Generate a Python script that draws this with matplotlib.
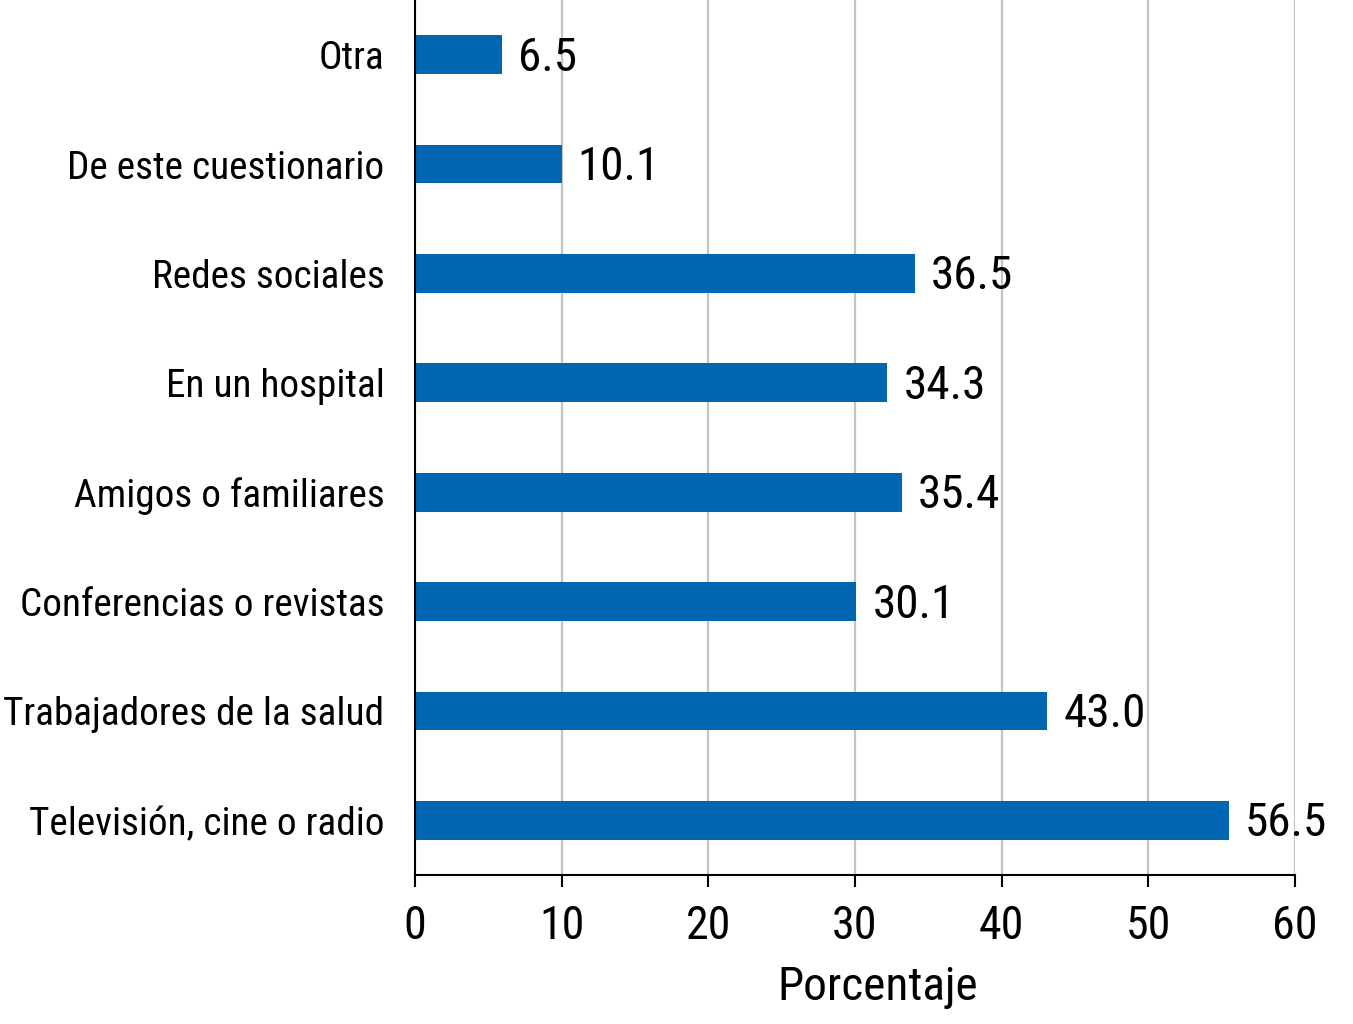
import matplotlib
matplotlib.use("Agg")
import matplotlib.pyplot as plt

plt.rcParams['font.family'] = ['Roboto Condensed', 'Archivo Narrow', 'DejaVu Sans']

categories = ["Televisión, cine o radio", "Trabajadores de la salud", "Conferencias o revistas",
              "Amigos o familiares", "En un hospital", "Redes sociales",
              "De este cuestionario", "Otra"]
bar_values = [55.5, 43.1, 30.1, 33.2, 32.2, 34.1, 10.0, 5.95]
value_labels = ["56.5", "43.0", "30.1", "35.4", "34.3", "36.5", "10.1", "6.5"]
xticks = [0, 10, 20, 30, 40, 50, 60]

W, H = 1353, 1024
fig = plt.figure(figsize=(W / 100, H / 100), dpi=100)
ax = fig.add_axes([415 / W, 1 - 875 / H, (1295 - 415) / W, 875 / H])

y = list(range(len(categories)))
ax.barh(y, bar_values, height=0.355, color='#0066B2', zorder=3)
for yi, v, lab in zip(y, bar_values, value_labels):
    ax.annotate(lab, (v, yi), xytext=(16, -3), textcoords='offset pixels',
                va='center', ha='left', fontsize=34, color='black', zorder=4)

ax.set_xlim(0, 60)
ax.set_ylim(-0.5, len(categories) - 0.5)
ax.set_xticks(xticks)
ax.set_xticklabels([str(t) for t in xticks])
ax.set_yticks(y)
ax.set_yticklabels(categories)
ax.tick_params(axis='y', length=0, pad=22, labelsize=28.3)
ax.tick_params(axis='x', length=8.6, width=1.5, pad=12, labelsize=33, direction='out')
ax.xaxis.grid(True, color='#c4c4c4', linewidth=1.6, zorder=0)
for s in ['top', 'right']:
    ax.spines[s].set_visible(False)
for s in ['left', 'bottom']:
    ax.spines[s].set_linewidth(1.5)
    ax.spines[s].set_zorder(5)
ax.set_xlabel('Porcentaje', fontsize=34)
ax.xaxis.set_label_coords(0.526, -0.103)
ax.xaxis.label.set_va('top')

fig.savefig('out.png', dpi=100)
